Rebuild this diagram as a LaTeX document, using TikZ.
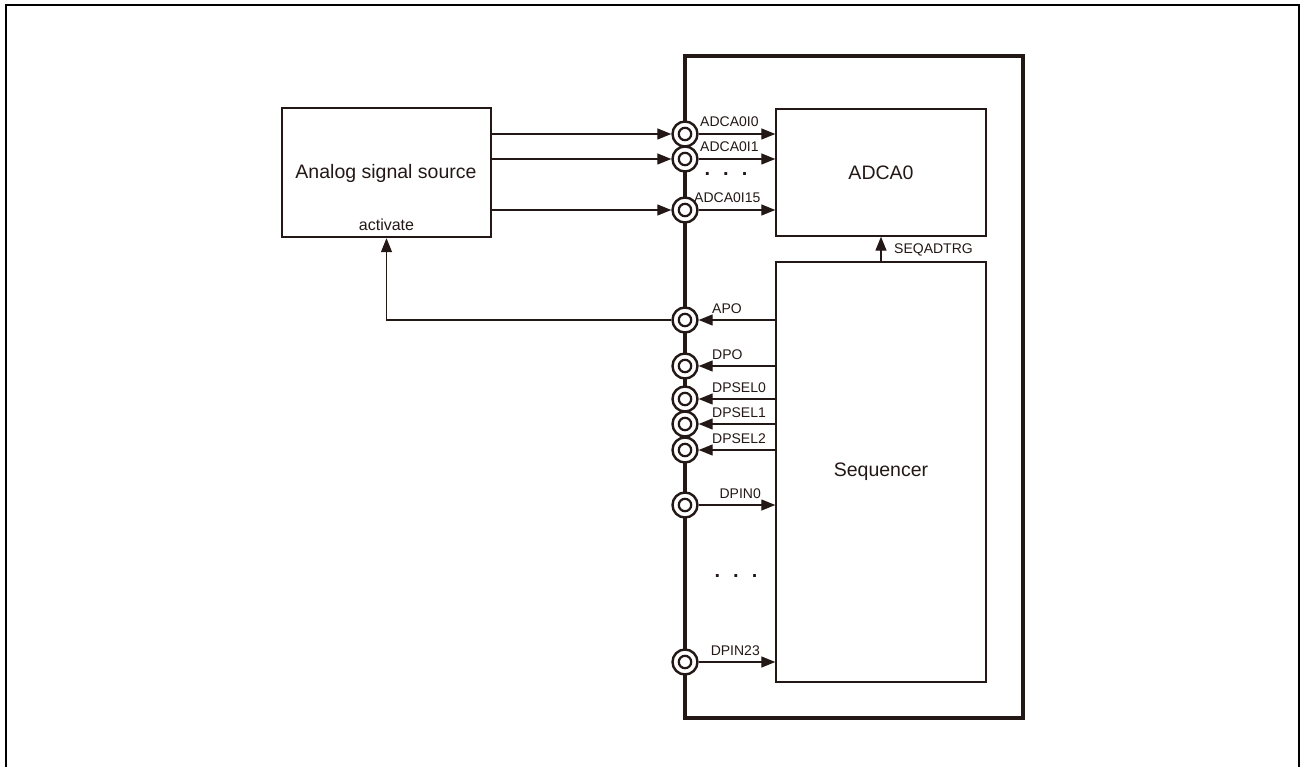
\documentclass[tikz,border=0pt]{standalone}
\usepackage{fontspec}
\setmainfont{Liberation Sans}
\usetikzlibrary{arrows.meta}
\definecolor{ink}{RGB}{35,24,21}
\begin{document}
\begin{tikzpicture}[x=1pt,y=-1pt,
  frame/.style={draw=black,line width=2},
  chip/.style={draw=ink,line width=4.5},
  block/.style={draw=ink,line width=1.4,inner sep=0},
  srcbox/.style={draw=ink,line width=2.4,inner sep=0},
  sig/.style={draw=ink,line width=1.3,-{Triangle[length=14pt,width=11pt]}},
  pin/.style={circle,draw=ink,line width=2.4,fill=white,minimum size=25,inner sep=0,
    path picture={\draw[ink,line width=2.2] (path picture bounding box.center) circle (6.2);}},
  big/.style={text=ink,font=\fontsize{19.5}{22}\selectfont},
  lbl/.style={text=ink,font=\fontsize{14}{16}\selectfont,inner sep=0},
  dots/.style={text=ink,font=\fontsize{20}{22}\selectfont\bfseries,inner sep=0}]
\useasboundingbox (0,0) rectangle (1301,767);
% outer frame
\draw[frame] (6,767) -- (6,5) -- (1299,5) -- (1299,767);
% device
\draw[chip] (685,56) rectangle (1023,718);
\node[block,minimum width=210,minimum height=127] (adc) at (881,172.5) {};
\node[big] () at (adc.center) {ADCA0};
\node[block,minimum width=210,minimum height=420] (seq) at (881,472) {};
\node[big] () at (seq.center) {Sequencer};
\node[srcbox,minimum width=209,minimum height=129] (src) at (386.5,172.5) {};
\node[big] () at (386,173) {Analog signal source};
\node[lbl,anchor=base,font=\fontsize{16}{18}\selectfont] () at (386.5,231) {activate};
% pins
\node[pin] (ai0) at (685,134) {};
\node[pin] (ai1) at (685,159) {};
\node[pin] (ai15) at (685,210) {};
\node[pin] (apo) at (685,320) {};
\node[pin] (dpo) at (685,366) {};
\node[pin] (dps0) at (685,399) {};
\node[pin] (dps1) at (685,424) {};
\node[pin] (dps2) at (685,450) {};
\node[pin] (dpi0) at (685,505) {};
\node[pin] (dpi23) at (685,662) {};
% analog inputs
\draw[sig] (ai0 -| src.east) -- (ai0.west);
\draw[sig] (ai1 -| src.east) -- (ai1.west);
\draw[sig] (ai15 -| src.east) -- (ai15.west);
\draw[sig] (ai0.east) -- (ai0 -| adc.west);
\draw[sig] (ai1.east) -- (ai1 -| adc.west);
\draw[sig] (ai15.east) -- (ai15 -| adc.west);
\node[lbl,anchor=base west] () at (700,127) {ADCA0I0};
\node[lbl,anchor=base west] () at (700,152) {ADCA0I1};
\node[lbl,anchor=base west] () at (694,203) {ADCA0I15};
\node[dots] () at (726,174) {.\hspace{13pt}.\hspace{13pt}.};
% trigger
\draw[sig] (adc.south |- seq.north) -- (adc.south);
\node[lbl,anchor=base west] () at (894,254) {SEQADTRG};
% outputs
\draw[sig] (apo -| seq.west) -- (apo.east);
\draw[sig] (apo.west) -| (src.south);
\draw[sig] (dpo -| seq.west) -- (dpo.east);
\draw[sig] (dps0 -| seq.west) -- (dps0.east);
\draw[sig] (dps1 -| seq.west) -- (dps1.east);
\draw[sig] (dps2 -| seq.west) -- (dps2.east);
\node[lbl,anchor=base west] () at (712,313) {APO};
\node[lbl,anchor=base west] () at (712,359) {DPO};
\node[lbl,anchor=base west] () at (712,392) {DPSEL0};
\node[lbl,anchor=base west] () at (712,417) {DPSEL1};
\node[lbl,anchor=base west] () at (712,443) {DPSEL2};
% inputs
\draw[sig] (dpi0.east) -- (dpi0 -| seq.west);
\draw[sig] (dpi23.east) -- (dpi23 -| seq.west);
\node[lbl,anchor=base east] () at (761,498) {DPIN0};
\node[lbl,anchor=base east] () at (760,655) {DPIN23};
\node[dots] () at (736,576) {.\hspace{13pt}.\hspace{13pt}.};
\end{tikzpicture}
\end{document}
